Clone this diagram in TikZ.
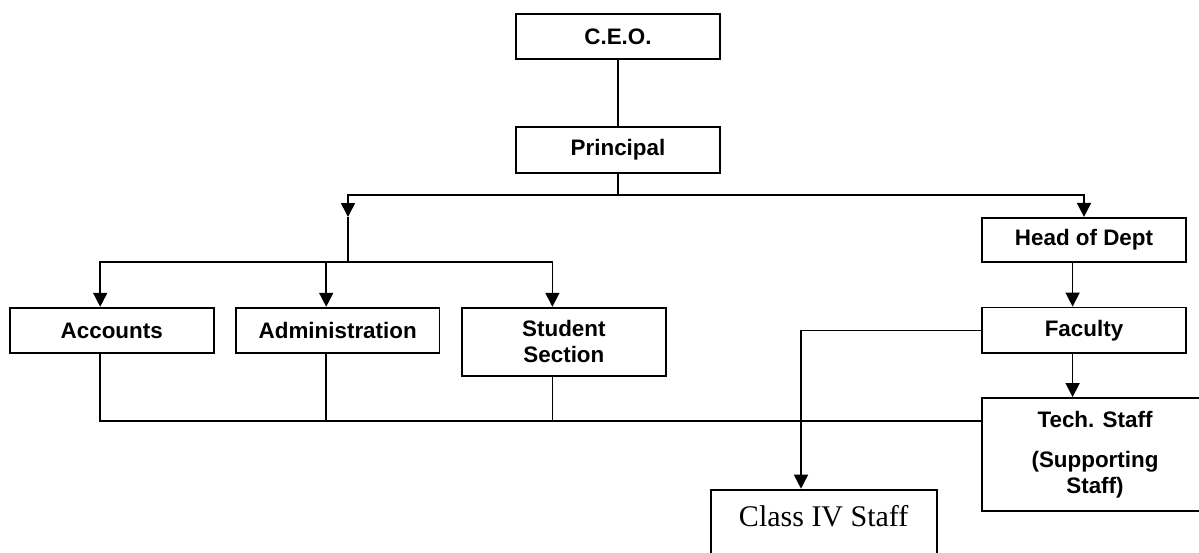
\documentclass[tikz,border=0pt]{standalone}
\usepackage{fontspec}
\setmainfont{Liberation Sans}
\newfontfamily\classfont{Liberation Serif}
\usetikzlibrary{arrows.meta}

\begin{document}
\begin{tikzpicture}[x=0.5pt, y=-0.5pt,
	box/.style={draw, line width=0.9pt, inner sep=2pt, align=center,
		font=\fontsize{11.2}{13}\selectfont\bfseries},
	link/.style={line width=0.8pt},
	arr/.style={link, -{Triangle[width=7pt,length=7pt]}}]
		\useasboundingbox (0,0) rectangle (1199,552);
		
		\node [box, minimum width=102pt, minimum height=22.5pt] (ceo) at (618,36.5) {C.E.O.};
		\node [box, minimum width=102pt, minimum height=23pt] (principal) at (618,150) {Principal};
		\node [box, minimum width=102pt, minimum height=22.2pt] (hod) at (1084,240) {Head of Dept};
		\node [box, minimum width=102pt, minimum height=22.8pt] (faculty) at (1084,330.3) {Faculty};
		\node [box, minimum width=102pt, minimum height=22.8pt] (accounts) at (111.7,330.5) {Accounts};
		\node [box, minimum width=101.7pt, minimum height=22.8pt] (admin) at (337.7,330.5) {Administration};
		\node [box, minimum width=102pt, minimum height=34.2pt] (student) at (563.9,341.9) {Student\\Section};
		\node [box, minimum width=113pt, minimum height=56.5pt] (tech) at (1095,454.5) {Tech. Staff\\[7pt](Supporting\\Staff)};
		\node [box, anchor=north, minimum width=113pt, inner sep=0pt, text height=18.2pt, text depth=20pt,
			font=\fontsize{15}{17}\selectfont\classfont] (classiv) at (823.7,488.7) {Class IV Staff};
		
		\coordinate (fork) at (618,195);
		\coordinate (split) at (348,217);
		\coordinate (bus) at (348,262);
		\coordinate (busR) at ([yshift=16.75pt]tech.west);
		
		\draw [link] (ceo) -- (principal);
		\draw [link] (principal.south) -- (fork);
		\draw [arr] (fork) -| (split);
		\draw [arr] (fork) -| (hod.north);
		\draw [link] (split) -- (bus);
		\draw [arr] (bus) -| ([xshift=-5.75pt]accounts.north);
		\draw [arr] (bus) -| ([xshift=-5.75pt]student.north);
		\draw [arr] ([xshift=-5.75pt]admin.north |- bus) -- ([xshift=-5.75pt]admin.north);
		\draw [arr] ([xshift=-5.7pt]hod.south) -- ([xshift=-5.7pt]faculty.north);
		\draw [arr] ([xshift=-5.7pt]faculty.south) -- ([xshift=-5.7pt]faculty.south |- tech.north);
		\draw [arr] (faculty.west) -| ([xshift=-11.35pt]classiv.north);
		
		\draw [link] ([xshift=-5.75pt]accounts.south) |- (busR);
		\draw [link] ([xshift=-5.75pt]admin.south) -- ([xshift=-5.75pt]admin.south |- busR);
		\draw [link] ([xshift=-5.75pt]student.south) -- ([xshift=-5.75pt]student.south |- busR);
\end{tikzpicture}
\end{document}
